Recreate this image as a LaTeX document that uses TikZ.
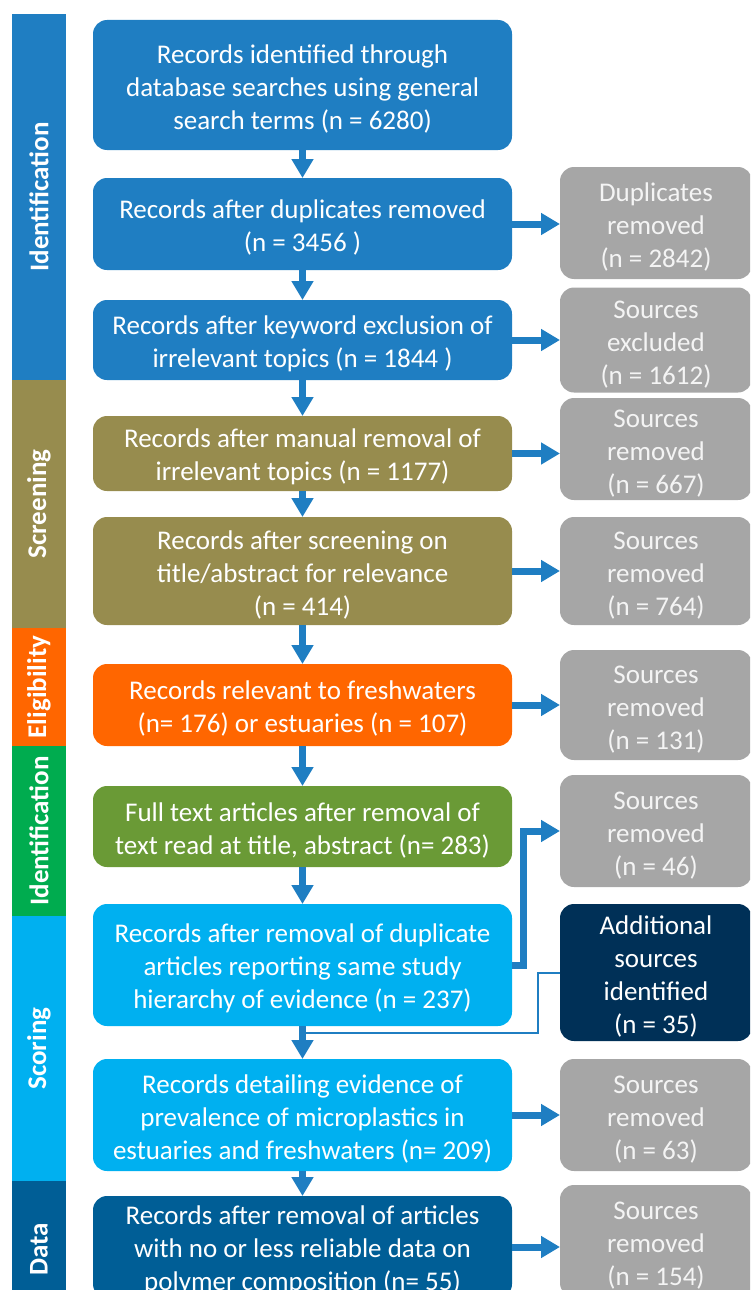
\documentclass[tikz,border=0pt]{standalone}
\usepackage{fontspec}
\setmainfont{Carlito}
\usepackage{tikz}
\usetikzlibrary{arrows.meta,positioning}
\definecolor{MainBlue}{HTML}{1F7EC2}
\definecolor{ScreenOlive}{HTML}{978C4E}
\definecolor{EligOrange}{HTML}{FF6600}
\definecolor{TextGreen}{HTML}{6A9A36}
\definecolor{BarGreen}{HTML}{00AC4F}
\definecolor{ScoreCyan}{HTML}{00B0F0}
\definecolor{DataBlue}{HTML}{005E96}
\definecolor{AddNavy}{HTML}{003057}
\definecolor{SideGray}{HTML}{A6A6A6}
\definecolor{SideText}{HTML}{F4F4F4}
\definecolor{FlowBlue}{HTML}{1F7EC2}
% pushes the lines of a box a little down
\newcommand{\topgap}{\mbox{}\\[-7pt]}
\tikzset{%
  mainbox/.style={rounded corners=14pt,text=white,align=center,outer sep=0pt,
    minimum width=419pt,inner sep=0pt,font=\fontsize{27}{33}\selectfont},
  sidebox/.style={rounded corners=14pt,fill=SideGray,text=SideText,align=center,
    outer sep=0pt,minimum width=192pt,inner sep=0pt,font=\fontsize{27}{33}\selectfont},
  phase/.style={rotate=90,minimum height=54pt,inner sep=0pt,text=white,
    font=\fontsize{27}{32}\selectfont\bfseries},
  flow/.style={-{Triangle[length=19pt,width=21pt]},line width=7pt,FlowBlue},
  joinline/.style={line width=2pt,FlowBlue}
}

\begin{document}
\begin{tikzpicture}[x=1pt,y=1pt]
  \clip (0,0) rectangle (750,-1290);
  % phase bar
  \node[phase, fill=MainBlue, minimum width=366pt] (ph1) at (39,-197) {Identification};
  \node[phase, fill=ScreenOlive, minimum width=248pt] (ph2) at (39,-504) {Screening};
  \node[phase, fill=EligOrange, minimum width=118pt] (ph3) at (39,-687) {Eligibility};
  \node[phase, fill=BarGreen, minimum width=170pt] (ph4) at (39,-831) {Identification};
  \node[phase, fill=ScoreCyan, minimum width=265pt] (ph5) at (39,-1048.5) {Scoring};
  \node[phase, fill=DataBlue, minimum width=136pt] (ph6) at (39,-1249) {Data};

  % main column
  \node[mainbox, fill=MainBlue, minimum height=130pt] (b1) at (302.5,-85)
    {\topgap Records identified through\\database searches using general\\search terms (n = 6280)};
  \node[mainbox, fill=MainBlue, minimum height=92pt, below=28pt of b1] (b2)
    {\topgap Records after duplicates removed\\(n = 3456 )};
  \node[mainbox, fill=MainBlue, minimum height=80pt, below=30pt of b2] (b3)
    {\topgap Records after keyword exclusion of\\irrelevant topics (n = 1844 )};
  \node[mainbox, fill=ScreenOlive, minimum height=75pt, below=36pt of b3] (b4)
    {\topgap Records after manual removal of\\irrelevant topics (n = 1177)};
  \node[mainbox, fill=ScreenOlive, minimum height=108pt, below=26pt of b4] (b5)
    {\topgap Records after screening on\\title/abstract for relevance\\(n = 414)};
  \node[mainbox, fill=EligOrange, minimum height=82pt, below=39pt of b5] (b6)
    {\topgap Records relevant to freshwaters\\(n= 176) or estuaries (n = 107)};
  \node[mainbox, fill=TextGreen, minimum height=81pt, below=40pt of b6] (b7)
    {\topgap Full text articles after removal of\\text read at title, abstract (n= 283)};
  \node[mainbox, fill=ScoreCyan, minimum height=122pt, below=37pt of b7] (b8)
    {\topgap Records after removal of duplicate\\articles reporting same study\\hierarchy of evidence (n = 237)};
  \node[mainbox, fill=ScoreCyan, minimum height=112pt, below=33pt of b8] (b9)
    {\topgap Records detailing evidence of\\prevalence of microplastics in\\estuaries and freshwaters (n= 209)};
  \node[mainbox, fill=DataBlue, minimum height=102pt, below=25pt of b9] (b10)
    {\topgap Records after removal of articles\\with no or less reliable data on\\polymer composition (n= 55)};

  % side column
  \node[sidebox, minimum height=112pt, right=48pt of b2, yshift=1pt] (r2) {\topgap Duplicates\\removed\\(n = 2842)};
  \node[sidebox, minimum height=105pt, right=48pt of b3] (r3) {\topgap Sources\\excluded\\(n = 1612)};
  \node[sidebox, minimum height=102pt, right=48pt of b4, yshift=4.5pt] (r4) {\topgap Sources\\removed\\(n = 667)};
  \node[sidebox, minimum height=108pt, right=48pt of b5] (r5) {\topgap Sources\\removed\\(n = 764)};
  \node[sidebox, minimum height=110pt, right=48pt of b6] (r6) {\topgap Sources\\removed\\(n = 131)};
  \node[sidebox, minimum height=112pt, right=48pt of b7, yshift=-4.5pt] (r7) {\topgap Sources\\removed\\(n = 46)};
  \node[sidebox, fill=AddNavy, text=white, minimum height=137pt, right=48pt of b8, yshift=-7.5pt] (add)
    {\topgap Additional\\sources\\identified\\(n = 35)};
  \node[sidebox, minimum height=112pt, right=48pt of b9] (r9) {\topgap Sources\\removed\\(n = 63)};
  \node[sidebox, minimum height=112pt, right=48pt of b10, yshift=6pt] (r10) {\topgap Sources\\removed\\(n = 154)};

  \coordinate (merge) at (302.5,-1033);

  \draw[flow] (b1.south) -- (b2.north);
  \draw[flow] (b2.south) -- (b3.north);
  \draw[flow] (b3.south) -- (b4.north);
  \draw[flow] (b4.south) -- (b5.north);
  \draw[flow] (b5.south) -- (b6.north);
  \draw[flow] (b6.south) -- (b7.north);
  \draw[flow] (b7.south) -- (b8.north);
  \draw[flow] (b8.south) -- (b9.north);
  \draw[flow] (b9.south) -- (b10.north);
  \draw[flow] (b2.east) -- (b2.east -| r2.west);
  \draw[flow] (b3.east) -- (b3.east -| r3.west);
  \draw[flow] (b4.east) -- (b4.east -| r4.west);
  \draw[flow] (b5.east) -- (b5.east -| r5.west);
  \draw[flow] (b6.east) -- (b6.east -| r6.west);
  \draw[flow] (b8.east) -- ++(11pt,0) |- (r7.west);
  \draw[flow] (b9.east) -- (b9.east -| r9.west);
  \draw[flow] (b10.east) -- (b10.east -| r10.west);
  \draw[joinline] (add.west) -- ++(-22pt,0) |- (merge);
\end{tikzpicture}
\end{document}
